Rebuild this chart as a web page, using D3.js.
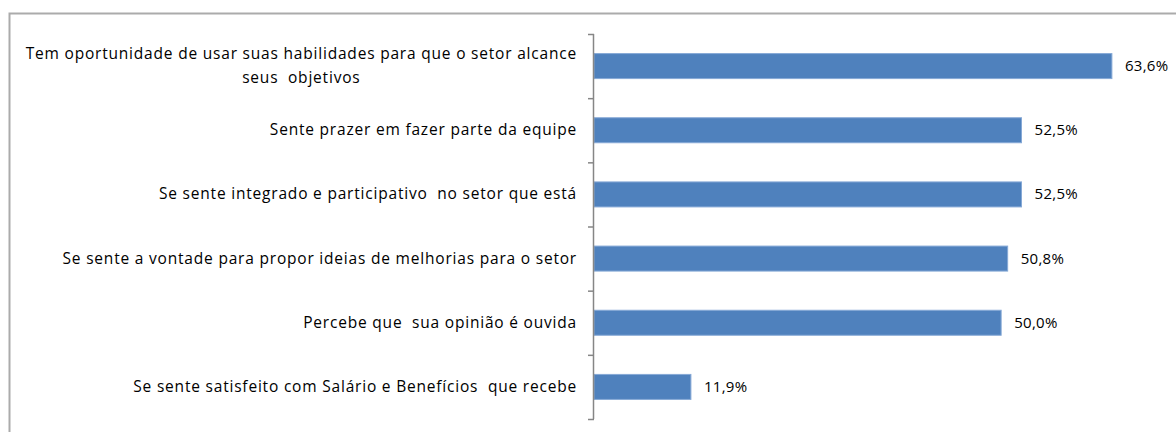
<!DOCTYPE html>
<html lang="pt">
<head>
    <meta charset="UTF-8">
    <title>Chart</title>
    <script src="https://cdn.jsdelivr.net/npm/d3@7"></script>
    <style>
        body { margin: 0; background: #fff; }
        svg { display: block; }
        text { white-space: pre; }
    </style>
</head>
<body>
<script>
    // categorias (de cima para baixo), "\n" = quebra de linha
    var categories = [
        "Tem oportunidade de usar suas habilidades para que o setor alcance\nseus  objetivos",
        "Sente prazer em fazer parte da equipe",
        "Se sente integrado e participativo  no setor que está",
        "Se sente a vontade para propor ideias de melhorias para o setor",
        "Percebe que  sua opinião é ouvida",
        "Se sente satisfeito com Salário e Benefícios  que recebe"
    ]
    var values = [0.636, 0.525, 0.525, 0.508, 0.500, 0.119]

    var width = 1176
    var height = 432
    var axisX = 594      // posição do eixo vertical
    var plotTop = 34
    var plotBottom = 419
    var barHeight = 25

    var pt = d3.formatLocale({ decimal: ",", thousands: ".", grouping: [3], currency: ["R$", ""] })
    var fmt = pt.format(".1%")

    var svg = d3.select("body").append("svg")
        .attr("width", width)
        .attr("height", height)

    // moldura
    svg.append("rect")
        .attr("x", 9.5).attr("y", 13.5)
        .attr("width", width + 20).attr("height", height + 20)
        .attr("fill", "none")
        .attr("stroke", "#ababab")
        .attr("stroke-width", 2)

    var x = d3.scaleLinear().domain([0, 0.7]).range([axisX, axisX + 570])
    var y = d3.scaleBand().domain(categories).range([plotTop, plotBottom])

    // barras
    svg.selectAll("rect.bar")
        .data(values)
        .enter()
        .append("rect")
        .attr("class", "bar")
        .attr("x", x(0))
        .attr("y", function(d, i) { return y(categories[i]) + (y.bandwidth() - barHeight) / 2 })
        .attr("width", function(d) { return x(d) - x(0) })
        .attr("height", barHeight)
        .attr("fill", "#4f81bd")
        .attr("stroke", "#86a9d6")
        .attr("stroke-width", 1)

    // eixo vertical com marcas entre categorias
    var axis = svg.append("g")
    axis.append("line")
        .attr("x1", axisX - 0.5).attr("x2", axisX - 0.5)
        .attr("y1", plotTop).attr("y2", plotBottom)
        .attr("stroke", "#868686")
        .attr("stroke-width", 1.5)
    var ticks = y.domain().map(function(c) { return y(c) }).concat([plotBottom])
    axis.selectAll("line.tick")
        .data(ticks)
        .enter()
        .append("line")
        .attr("class", "tick")
        .attr("x1", axisX - 6).attr("x2", axisX)
        .attr("y1", function(d) { return d + 0.5 })
        .attr("y2", function(d) { return d + 0.5 })
        .attr("stroke", "#868686")
        .attr("stroke-width", 1.5)

    // rótulos das categorias
    var labels = svg.selectAll("text.cat")
        .data(categories)
        .enter()
        .append("text")
        .attr("class", "cat")
        .attr("font-family", "'Open Sans', sans-serif")
        .attr("font-size", "15.5px")
        .attr("letter-spacing", "0.8px")
        .attr("fill", "#000")
        .attr("text-anchor", "middle")

    labels.each(function(c) {
        var lines = c.split("\n")
        var t = d3.select(this)
        var cy = y(c) + y.bandwidth() / 2
        lines.forEach(function(l, k) {
            t.append("tspan")
                .attr("y", cy + 5 + (k - (lines.length - 1) / 2) * 24)
                .text(l)
        })
        var w = d3.max(t.selectAll("tspan").nodes(), function(n) { return n.getComputedTextLength() })
        t.selectAll("tspan").attr("x", axisX - 17 - w / 2)
    })

    // rótulos de valores
    svg.selectAll("text.val")
        .data(values)
        .enter()
        .append("text")
        .attr("class", "val")
        .attr("x", function(d) { return x(d) + 13 })
        .attr("y", function(d, i) { return y(categories[i]) + y.bandwidth() / 2 + 5 })
        .attr("font-family", "'Open Sans', sans-serif")
        .attr("font-size", "15px")
        .attr("letter-spacing", "0.3px")
        .attr("fill", "#000")
        .text(function(d) { return fmt(d) })
</script>
</body>
</html>
